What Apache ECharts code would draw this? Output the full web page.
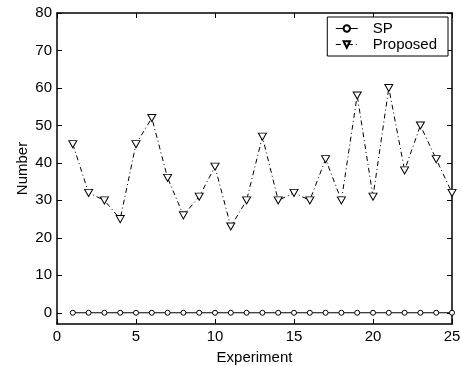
<!DOCTYPE html>
<html>
<head>
<meta charset="utf-8">
<script src="https://cdn.jsdelivr.net/npm/echarts@6/dist/echarts.min.js"></script>
<style>
  html, body { margin: 0; padding: 0; background: #fff; }
  #chart { width: 461px; height: 366px; }
</style>
</head>
<body>
<div id="chart"></div>
<script>
// data
const experiments = [1, 2, 3, 4, 5, 6, 7, 8, 9, 10, 11, 12, 13, 14, 15, 16, 17, 18, 19, 20, 21, 22, 23, 24, 25];
const spValues = [0, 0, 0, 0, 0, 0, 0, 0, 0, 0, 0, 0, 0, 0, 0, 0, 0, 0, 0, 0, 0, 0, 0, 0, 0];
const proposedValues = [45, 32, 30, 25, 45, 52, 36, 26, 31, 39, 23, 30, 47, 30, 32, 30, 41, 30, 58, 31, 60, 38, 50, 41, 32];
const yTicks = [0, 10, 20, 30, 40, 50, 60, 70, 80];

const font = "'Liberation Sans', Arial, sans-serif";
const chart = echarts.init(document.getElementById("chart"));

const pairs = (vals) => experiments.map((x, i) => [x, vals[i]]);

// axis lines/ticks shared by the box sides
const boxLine = { show: true, onZero: false, lineStyle: { color: "#000", width: 1.5 } };
const boxTick = { show: true, inside: true, length: 5, lineStyle: { color: "#000", width: 1 } };

const option = {
  animation: false,
  grid: { left: 57, right: 9, top: 13, bottom: 42, outerBoundsMode: "none" },
  legend: {
    right: 13,
    top: 17,
    orient: "vertical",
    backgroundColor: "#fff",
    borderColor: "#000",
    borderWidth: 1,
    padding: [4, 11, 4, 8],
    itemGap: 1,
    itemWidth: 22,
    itemHeight: 8,
    lineStyle: { width: 1 },
    textStyle: { fontFamily: font, fontSize: 15, color: "#000", padding: [0, 0, 0, 10] },
    data: ["SP", "Proposed"],
  },
  xAxis: [
    {
      type: "value",
      min: 0,
      max: 25,
      interval: 5,
      name: "Experiment",
      nameLocation: "middle",
      nameGap: 26,
      nameMoveOverlap: false,
      nameTextStyle: { fontFamily: font, fontSize: 15, color: "#000" },
      axisLine: boxLine,
      axisTick: boxTick,
      axisLabel: { fontFamily: font, fontSize: 15, color: "#000", margin: 5 },
      splitLine: { show: false },
    },
    {
      type: "value",
      position: "top",
      min: 0,
      max: 25,
      interval: 5,
      axisLine: boxLine,
      axisTick: boxTick,
      axisLabel: { show: false },
      splitLine: { show: false },
    },
  ],
  yAxis: [
    {
      type: "value",
      min: -3,
      max: 80,
      name: "Number",
      nameLocation: "middle",
      nameGap: 27,
      nameMoveOverlap: false,
      nameTextStyle: { fontFamily: font, fontSize: 15, color: "#000" },
      axisLine: boxLine,
      axisTick: Object.assign({ customValues: yTicks }, boxTick),
      axisLabel: { customValues: yTicks, fontFamily: font, fontSize: 15, color: "#000", margin: 5 },
      splitLine: { show: false },
    },
    {
      type: "value",
      position: "right",
      min: -3,
      max: 80,
      axisLine: boxLine,
      axisTick: Object.assign({ customValues: yTicks }, boxTick),
      axisLabel: { show: false },
      splitLine: { show: false },
    },
  ],
  series: [
    {
      name: "SP",
      type: "line",
      data: pairs(spValues),
      symbol: "circle",
      symbolSize: 5,
      lineStyle: { color: "#000", width: 1 },
      itemStyle: { color: "#fff", borderColor: "#000", borderWidth: 1 },
      z: 3,
    },
    {
      name: "Proposed",
      type: "line",
      data: pairs(proposedValues),
      symbol: "path://M0,0 L10,0 L5,9 Z",
      symbolSize: [8, 7],
      lineStyle: { color: "#000", width: 1, type: [5, 3, 1, 3] },
      itemStyle: { color: "#fff", borderColor: "#000", borderWidth: 1 },
      z: 3,
    },
  ],
};

chart.setOption(option);
</script>
</body>
</html>
